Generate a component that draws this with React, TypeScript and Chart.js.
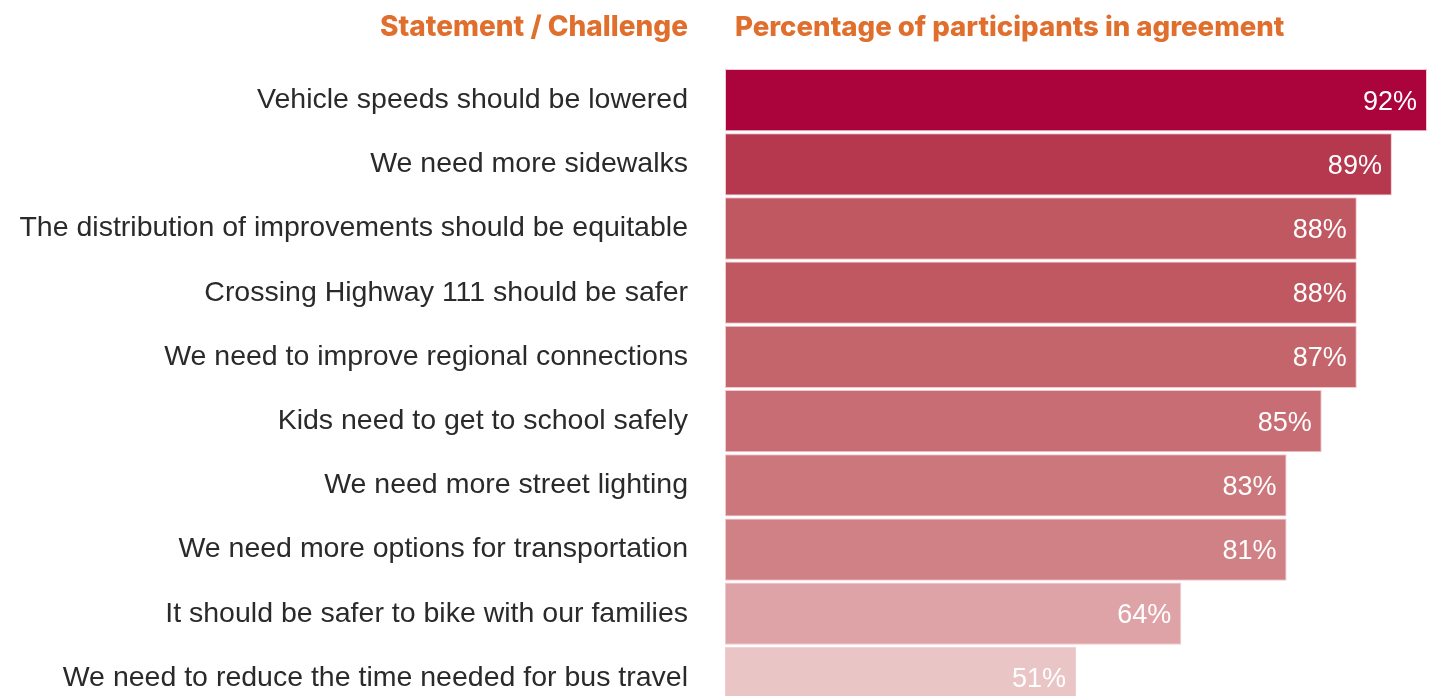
import React, { useEffect, useRef } from "react";
import { Chart, registerables } from "chart.js";

Chart.register(...registerables);

const statements = [
  "Vehicle speeds should be lowered",
  "We need more sidewalks",
  "The distribution of improvements should be equitable",
  "Crossing Highway 111 should be safer",
  "We need to improve regional connections",
  "Kids need to get to school safely",
  "We need more street lighting",
  "We need more options for transportation",
  "It should be safer to bike with our families",
  "We need to reduce the time needed for bus travel",
];

// Percentages printed on the bars
const agreementPct = [92, 89, 88, 88, 87, 85, 83, 81, 64, 51];

// Bar lengths as drawn in the original graphic (percent scale, stepped to 5%)
const barLengths = [100, 95, 90, 90, 90, 85, 80, 80, 65, 50];

const barColors = [
  "#AB033B",
  "#B5384F",
  "#C05862",
  "#C05862",
  "#C4646B",
  "#C86D73",
  "#CC777B",
  "#D08186",
  "#DEA3A6",
  "#EAC5C6",
];

const headerLeft = "Statement / Challenge";
const headerRight = "Percentage of participants in agreement";

const ORANGE = "#E06F2E";
const LABEL_FONT = "'Liberation Sans', Arial, sans-serif";
const HEADER_FONT = "Inter, 'Noto Sans', sans-serif";

export default function App() {
  const canvasRef = useRef<HTMLCanvasElement | null>(null);

  useEffect(() => {
    const canvas = canvasRef.current;
    if (!canvas) return;

    const overlayPlugin = {
      id: "overlay",
      afterDatasetsDraw(chart: any) {
        const ctx = chart.ctx;
        const meta = chart.getDatasetMeta(0);
        ctx.save();
        ctx.fillStyle = "#ffffff";
        ctx.font = `27px ${LABEL_FONT}`;
        ctx.textAlign = "right";
        ctx.textBaseline = "middle";
        meta.data.forEach((bar: any, i: number) => {
          ctx.fillText(`${agreementPct[i]}%`, bar.x - 10, bar.y + 2);
        });
        ctx.restore();
      },
      afterDraw(chart: any) {
        const ctx = chart.ctx;
        const left = chart.chartArea.left;
        ctx.save();
        ctx.fillStyle = ORANGE;
        ctx.textBaseline = "middle";
        ctx.font = `800 28px ${HEADER_FONT}`;
        ctx.textAlign = "right";
        ctx.fillText(headerLeft, left - 37, 28);
        ctx.font = `800 27.6px ${HEADER_FONT}`;
        ctx.textAlign = "left";
        ctx.fillText(headerRight, left + 10, 28);
        ctx.restore();
      },
    };

    const chart = new Chart(canvas, {
      type: "bar",
      data: {
        labels: statements,
        datasets: [
          {
            data: barLengths,
            backgroundColor: barColors,
            borderColor: "#F2C9CF",
            borderWidth: 1,
            borderSkipped: false,
            barPercentage: 1,
            categoryPercentage: 0.97,
          },
        ],
      },
      options: {
        indexAxis: "y",
        responsive: true,
        maintainAspectRatio: false,
        animation: false,
        layout: { padding: { top: 68, right: 3, bottom: 13, left: 0 } },
        plugins: {
          legend: { display: false },
          tooltip: { enabled: false },
          title: { display: false },
        },
        scales: {
          x: {
            min: 0,
            max: 100,
            display: false,
          },
          y: {
            grid: { display: false },
            border: { display: false },
            ticks: {
              color: "#2a2a2a",
              padding: 29,
              font: { size: 28.5, family: LABEL_FONT, lineHeight: 1.05 },
            },
            afterFit(scale: any) {
              scale.width = 725;
            },
          },
        },
      },
      plugins: [overlayPlugin],
    });

    return () => chart.destroy();
  }, []);

  return (
    <div
      style={{
        position: "fixed",
        top: 0,
        left: 0,
        width: 1430,
        height: 696,
        overflow: "hidden",
        background: "#ffffff",
      }}
    >
      <div style={{ position: "relative", width: 1430, height: 754 }}>
        <canvas ref={canvasRef} />
      </div>
    </div>
  );
}
